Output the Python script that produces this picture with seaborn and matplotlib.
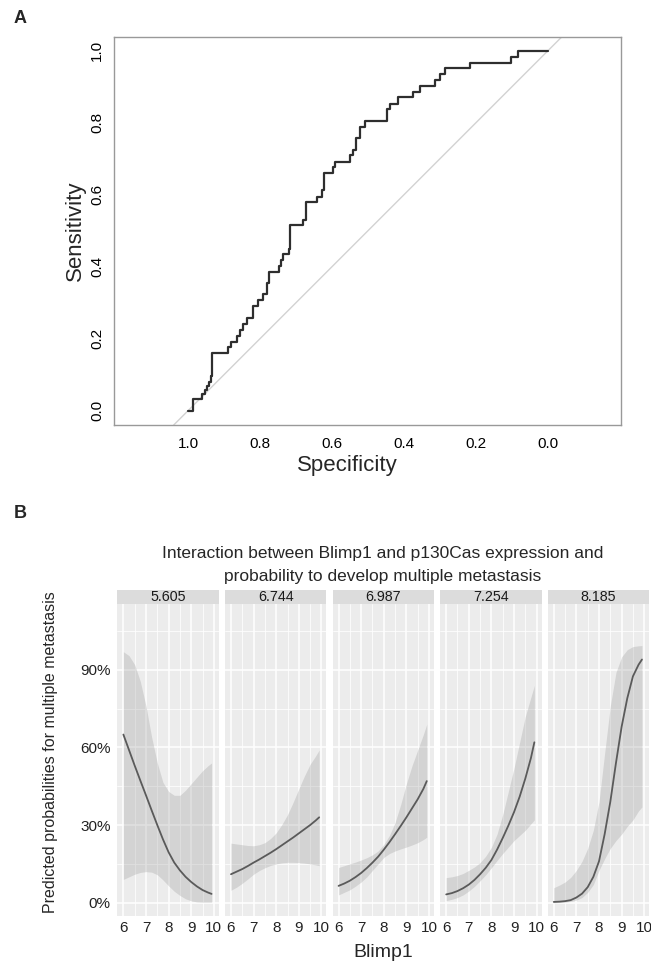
import numpy as np
import pandas as pd
import seaborn as sns
import matplotlib
matplotlib.use("Agg")
from matplotlib import pyplot as plt

sns.set_style("white")
plt.rcParams['font.family'] = ['Liberation Sans', 'DejaVu Sans']

#%% Panel A data - ROC curve corner points
specificity = [1.0, 0.985, 0.962, 0.953, 0.946, 0.941, 0.937, 0.932, 0.888, 0.881,
               0.865, 0.855, 0.846, 0.837, 0.819, 0.805, 0.793, 0.781, 0.774, 0.746,
               0.742, 0.735, 0.72, 0.716, 0.68, 0.671, 0.643, 0.627, 0.622, 0.596,
               0.592, 0.55, 0.542, 0.533, 0.522, 0.508, 0.448, 0.439, 0.416, 0.374,
               0.356, 0.314, 0.3, 0.286, 0.217, 0.104, 0.082, 0.0]
sensitivity = [0.0, 0.032, 0.046, 0.057, 0.068, 0.08, 0.097, 0.161, 0.178, 0.192,
               0.208, 0.224, 0.241, 0.257, 0.291, 0.307, 0.324, 0.354, 0.386, 0.402,
               0.419, 0.435, 0.449, 0.516, 0.531, 0.579, 0.594, 0.613, 0.659, 0.678,
               0.692, 0.71, 0.724, 0.757, 0.789, 0.805, 0.837, 0.853, 0.870, 0.886,
               0.903, 0.919, 0.935, 0.951, 0.967, 0.983, 1.0, 1.0]
roc_ticks = [1.0, 0.8, 0.6, 0.4, 0.2, 0.0]

#%% Panel B data - predicted probabilities by p130Cas level
blimp1 = [6.0, 6.25, 6.5, 6.75, 7.0, 7.25, 7.5, 7.75, 8.0, 8.25, 8.5, 8.75,
          9.0, 9.25, 9.5, 9.75, 9.9]
p130cas_levels = ["5.605", "6.744", "6.987", "7.254", "8.185"]

pred_5605 = [0.65, 0.59, 0.53, 0.472, 0.415, 0.357, 0.30, 0.245, 0.195, 0.155, 0.125,
             0.1, 0.08, 0.063, 0.049, 0.039, 0.034]
low_5605 = [0.09, 0.1, 0.11, 0.117, 0.12, 0.118, 0.108, 0.088, 0.065, 0.044, 0.028,
            0.015, 0.007, 0.003, 0.002, 0.002, 0.002]
high_5605 = [0.97, 0.955, 0.92, 0.855, 0.76, 0.64, 0.54, 0.465, 0.43, 0.415, 0.415,
             0.435, 0.46, 0.485, 0.51, 0.53, 0.54]

pred_6744 = [0.11, 0.12, 0.13, 0.142, 0.155, 0.167, 0.18, 0.193, 0.207, 0.222, 0.237,
             0.252, 0.268, 0.284, 0.30, 0.318, 0.33]
low_6744 = [0.048, 0.06, 0.075, 0.092, 0.11, 0.124, 0.135, 0.144, 0.15, 0.154, 0.156,
            0.156, 0.155, 0.153, 0.15, 0.146, 0.143]
high_6744 = [0.23, 0.227, 0.224, 0.221, 0.22, 0.224, 0.232, 0.248, 0.27, 0.302, 0.34,
             0.388, 0.44, 0.49, 0.535, 0.568, 0.59]

pred_6987 = [0.065, 0.074, 0.085, 0.099, 0.115, 0.134, 0.155, 0.178, 0.205, 0.234,
             0.265, 0.297, 0.33, 0.365, 0.40, 0.44, 0.47]
low_6987 = [0.03, 0.04, 0.05, 0.064, 0.08, 0.1, 0.125, 0.15, 0.175, 0.19, 0.2, 0.208,
            0.215, 0.223, 0.232, 0.244, 0.253]
high_6987 = [0.136, 0.143, 0.15, 0.157, 0.165, 0.174, 0.185, 0.2, 0.225, 0.26, 0.31,
             0.38, 0.46, 0.53, 0.59, 0.65, 0.69]

pred_7254 = [0.032, 0.037, 0.045, 0.056, 0.07, 0.088, 0.11, 0.135, 0.165, 0.205, 0.25,
             0.298, 0.35, 0.41, 0.48, 0.56, 0.62]
low_7254 = [0.008, 0.013, 0.02, 0.03, 0.045, 0.063, 0.085, 0.108, 0.135, 0.163, 0.19,
            0.215, 0.24, 0.26, 0.28, 0.305, 0.32]
high_7254 = [0.097, 0.1, 0.105, 0.113, 0.125, 0.138, 0.155, 0.18, 0.214, 0.265, 0.34,
             0.43, 0.52, 0.62, 0.72, 0.795, 0.84]

pred_8185 = [0.003, 0.004, 0.006, 0.01, 0.02, 0.035, 0.06, 0.1, 0.16, 0.265, 0.39,
             0.54, 0.68, 0.79, 0.875, 0.92, 0.94]
low_8185 = [0.0, 0.001, 0.002, 0.005, 0.01, 0.02, 0.04, 0.07, 0.125, 0.17, 0.21, 0.24,
            0.265, 0.295, 0.32, 0.355, 0.37]
high_8185 = [0.058, 0.068, 0.08, 0.098, 0.125, 0.16, 0.21, 0.28, 0.39, 0.578, 0.76,
             0.89, 0.95, 0.978, 0.99, 0.993, 0.994]

preds = [pred_5605, pred_6744, pred_6987, pred_7254, pred_8185]
lows = [low_5605, low_6744, low_6987, low_7254, low_8185]
highs = [high_5605, high_6744, high_6987, high_7254, high_8185]

frames = []
for lvl, p, lo, hi in zip(p130cas_levels, preds, lows, highs):
    frames.append(pd.DataFrame({"Blimp1": blimp1, "Predicted": p,
                                "Low": lo, "High": hi, "p130Cas": lvl}))
pred_df = pd.concat(frames, ignore_index=True)

#%% Figure
W, H = 651, 963
fig = plt.figure(figsize=(W / 100, H / 100), dpi=100)


def box(l, t, r, b):
    # pixel box -> figure fraction
    return [l / W, 1 - b / H, (r - l) / W, (b - t) / H]


def fx(x):
    return x / W


def fy(y):
    return 1 - y / H


#%% Panel A - ROC
axA = fig.add_axes(box(114, 37, 621, 425))
roc = pd.DataFrame({"Specificity": specificity, "Sensitivity": sensitivity})
axA.axline((1, 0), (0, 1), color="#d2d2d2", lw=1.0, zorder=1)
sns.lineplot(data=roc, x="Specificity", y="Sensitivity", ax=axA, sort=False,
             estimator=None, drawstyle="steps-post", color="#2e2e2e", lw=1.6, zorder=2)
axA.set_xlim(1.2056, -0.2028)
axA.set_ylim(-0.0397, 1.038)
axA.set_xticks(roc_ticks)
axA.set_xticklabels(["%.1f" % t for t in roc_ticks])
axA.set_yticks(roc_ticks)
axA.set_yticklabels(["%.1f" % t for t in roc_ticks])
axA.set_xlabel("")
axA.set_ylabel("")
axA.tick_params(axis="both", direction="out", length=5, width=0.8, color="#888888",
                labelsize=11, labelcolor="black")
axA.tick_params(axis="x", pad=4)
axA.tick_params(axis="y", pad=2, labelrotation=90)
for lab in axA.get_yticklabels():
    lab.set_va("center")
for sp in axA.spines.values():
    sp.set_color("#999999")
    sp.set_linewidth(1.0)
fig.text(fx(347), fy(465), "Specificity", ha="center", va="center", fontsize=16)
fig.text(fx(75), fy(231), "Sensitivity", ha="center", va="center", fontsize=16,
         rotation=90)
fig.text(fx(20.5), fy(18.5), "A", ha="center", va="center", fontsize=13,
         fontweight="bold")
fig.text(fx(20.5), fy(514), "B", ha="center", va="center", fontsize=13,
         fontweight="bold")

#%% Panel B - facets
lefts = [117.5, 225.1, 332.7, 440.3, 547.9]
pw = 101.3
for i, lvl in enumerate(p130cas_levels):
    sub = pred_df[pred_df["p130Cas"] == lvl]
    ax = fig.add_axes(box(lefts[i], 604, lefts[i] + pw, 915.7))
    ax.set_facecolor("#ececec")
    ax.fill_between(sub["Blimp1"], sub["Low"], sub["High"], color="#9a9a9a",
                    alpha=0.3, lw=0, zorder=2)
    sns.lineplot(data=sub, x="Blimp1", y="Predicted", ax=ax, color="#5a5a5a",
                 lw=1.3, zorder=3)
    ax.set_xlim(5.74, 10.22)
    ax.set_ylim(-0.0503, 1.1546)
    ax.set_xticks([6, 7, 8, 9, 10])
    ax.set_xticks([6.5, 7.5, 8.5, 9.5], minor=True)
    ax.set_yticks([0, 0.3, 0.6, 0.9])
    ax.set_yticks([0.15, 0.45, 0.75, 1.05], minor=True)
    ax.set_axisbelow(True)
    ax.grid(which="major", color="white", lw=1.1)
    ax.grid(which="minor", color="white", lw=0.55)
    for sp in ax.spines.values():
        sp.set_visible(False)
    ax.set_xlabel("")
    ax.set_ylabel("")
    ax.tick_params(axis="both", which="minor", length=0)
    ax.tick_params(axis="x", which="major", length=2.5, width=0.8, color="#555555",
                   labelsize=11, labelcolor="#222222", pad=1.5)
    ax.tick_params(axis="y", which="major", length=2.5, width=0.8, color="#555555",
                   labelsize=11, labelcolor="#222222", pad=2.5)
    if i == 0:
        ax.set_yticklabels(["0%", "30%", "60%", "90%"])
    else:
        ax.tick_params(axis="y", length=0, labelleft=False)
    # facet strip
    sax = fig.add_axes(box(lefts[i], 590, lefts[i] + pw, 604))
    sax.set_facecolor("#dcdcdc")
    sax.set_xticks([])
    sax.set_yticks([])
    for sp in sax.spines.values():
        sp.set_visible(False)
    sax.text(0.5, 0.5, lvl, ha="center", va="center", fontsize=10.3,
             color="#1a1a1a", transform=sax.transAxes)

fig.text(fx(383), fy(553), "Interaction between Blimp1 and p130Cas expression and",
         ha="center", va="center", fontsize=12.5)
fig.text(fx(383), fy(576), "probability to develop multiple metastasis",
         ha="center", va="center", fontsize=12.5)
fig.text(fx(383), fy(952), "Blimp1", ha="center", va="center", fontsize=14)
fig.text(fx(51), fy(752), "Predicted probabilities for multiple metastasis",
         ha="center", va="center", fontsize=11.5, rotation=90)

fig.savefig("out.png", dpi=100)
print("Finished")
